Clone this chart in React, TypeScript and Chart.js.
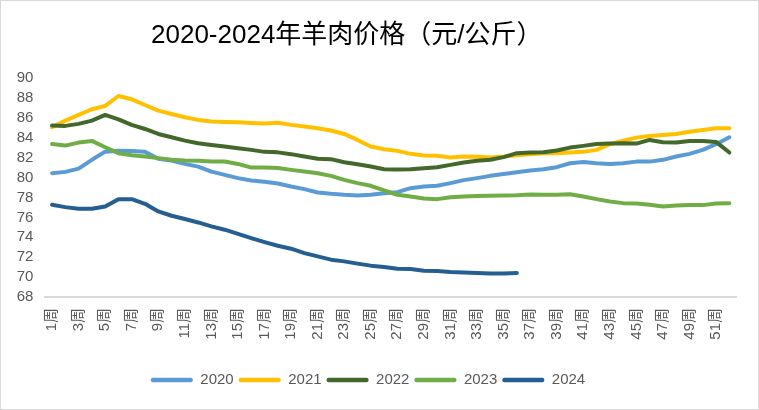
import React, { useEffect, useRef } from "react";
import { Chart, registerables } from "chart.js";

Chart.register(...registerables);

const weeks = [
  "1周", "2周", "3周", "4周", "5周", "6周", "7周", "8周", "9周", "10周",
  "11周", "12周", "13周", "14周", "15周", "16周", "17周", "18周", "19周", "20周",
  "21周", "22周", "23周", "24周", "25周", "26周", "27周", "28周", "29周", "30周",
  "31周", "32周", "33周", "34周", "35周", "36周", "37周", "38周", "39周", "40周",
  "41周", "42周", "43周", "44周", "45周", "46周", "47周", "48周", "49周", "50周",
  "51周", "52周",
];

const seriesNames = ["2020", "2021", "2022", "2023", "2024"];

const d2020 = [
  80.44, 80.57, 80.9, 81.78, 82.6, 82.7, 82.67, 82.58, 81.88, 81.71,
  81.37, 81.1, 80.6, 80.27, 79.94, 79.7, 79.57, 79.4, 79.1, 78.84,
  78.5, 78.37, 78.27, 78.2, 78.27, 78.43, 78.53, 78.93, 79.1, 79.17,
  79.44, 79.74, 79.94, 80.17, 80.36, 80.54, 80.71, 80.84, 81.04, 81.44,
  81.57, 81.44, 81.37, 81.44, 81.6, 81.6, 81.78, 82.11, 82.38, 82.78,
  83.35, 84.05,
];

const d2021 = [
  85.05, 85.72, 86.29, 86.86, 87.19, 88.19, 87.86, 87.29, 86.72, 86.39,
  86.06, 85.79, 85.62, 85.59, 85.56, 85.49, 85.42, 85.5, 85.29, 85.12,
  84.95, 84.72, 84.38, 83.78, 83.11, 82.85, 82.68, 82.38, 82.21, 82.18,
  82.01, 82.11, 82.08, 82.01, 82.11, 82.25, 82.35, 82.45, 82.45, 82.52,
  82.58, 82.78, 83.35, 83.71, 84.01, 84.18, 84.28, 84.38, 84.61, 84.78,
  84.95, 84.95,
];

const d2022 = [
  85.22, 85.19, 85.39, 85.72, 86.29, 85.85, 85.29, 84.88, 84.38, 84.05,
  83.71, 83.45, 83.28, 83.11, 82.95, 82.78, 82.58, 82.53, 82.35, 82.11,
  81.88, 81.85, 81.54, 81.34, 81.11, 80.84, 80.81, 80.84, 80.94, 81.04,
  81.27, 81.51, 81.68, 81.78, 82.05, 82.45, 82.52, 82.55, 82.71, 83.01,
  83.18, 83.38, 83.41, 83.45, 83.41, 83.78, 83.55, 83.51, 83.68, 83.68,
  83.58, 82.51,
];

const d2023 = [
  83.38, 83.21, 83.51, 83.68, 83.05, 82.45, 82.25, 82.11, 81.95, 81.78,
  81.71, 81.68, 81.61, 81.61, 81.37, 81.0, 81.0, 80.96, 80.77, 80.6,
  80.44, 80.17, 79.77, 79.44, 79.17, 78.7, 78.27, 78.1, 77.9, 77.83,
  78.03, 78.1, 78.14, 78.17, 78.2, 78.23, 78.3, 78.27, 78.27, 78.33,
  78.1, 77.83, 77.6, 77.43, 77.4, 77.26, 77.1, 77.2, 77.23, 77.23,
  77.4, 77.43,
];

const d2024 = [
  77.26, 77.03, 76.86, 76.86, 77.1, 77.83, 77.83, 77.36, 76.6, 76.16,
  75.83, 75.49, 75.09, 74.76, 74.35, 73.92, 73.52, 73.15, 72.85, 72.41,
  72.08, 71.75, 71.58, 71.35, 71.15, 71.01, 70.84, 70.81, 70.64, 70.61,
  70.51, 70.47, 70.41, 70.37, 70.37, 70.41,
];

const colors = ["#5B9BD5", "#FFC000", "#43682B", "#70AD47", "#255E91"];
const allData = [d2020, d2021, d2022, d2023, d2024];

const FONT = '"Liberation Sans", Arial, "Noto Sans CJK SC", sans-serif';

export default function App() {
  const ref = useRef<HTMLCanvasElement>(null);

  useEffect(() => {
    const canvas = ref.current;
    if (!canvas) return;
    const chart = new Chart(canvas, {
      type: "line",
      data: {
        labels: weeks,
        datasets: seriesNames.map((name, i) => ({
          label: name,
          data: allData[i],
          borderColor: colors[i],
          backgroundColor: colors[i],
          borderWidth: 4,
          pointRadius: 0,
          pointHoverRadius: 0,
          tension: 0,
          fill: false,
          borderCapStyle: "round" as const,
          borderJoinStyle: "round" as const,
          order: seriesNames.length - i,
        })),
      },
      options: {
        responsive: false,
        animation: false,
        devicePixelRatio: 1,
        layout: { padding: { left: 0, right: 23, top: 78, bottom: 12.5 } },
        plugins: {
          title: { display: false },
          tooltip: { enabled: false },
          legend: {
            position: "bottom",
            labels: {
              boxWidth: 42,
              boxHeight: 4.5,
              padding: 5,
              color: "#595959",
              font: { family: FONT, size: 15 },
              useBorderRadius: true,
              borderRadius: 2,
              generateLabels: (c: any) => {
                const items = (Chart.defaults.plugins.legend.labels as any).generateLabels(c);
                return items
                  .map((it: any) => ({ ...it, fillStyle: it.strokeStyle, lineWidth: 0 }))
                  .sort((a: any, b: any) => a.datasetIndex - b.datasetIndex);
              },
            },
          },
        },
        scales: {
          x: {
            offset: true,
            grid: { display: false, drawTicks: false },
            border: { display: true, color: "#d9d9d9", width: 2 },
            ticks: {
              autoSkip: false,
              minRotation: 90,
              maxRotation: 90,
              padding: 11,
              color: "#595959",
              font: { family: FONT, size: 15 },
              callback: (_v: any, idx: number) => (idx % 2 === 0 ? weeks[idx] : ""),
            },
            afterFit: (scale: any) => {
              scale.height = 70.5;
            },
          },
          y: {
            min: 68,
            max: 90,
            grid: { display: false, drawTicks: false },
            border: { display: false },
            ticks: {
              stepSize: 2,
              autoSkip: false,
              padding: 12,
              color: "#595959",
              font: { family: FONT, size: 15 },
            },
            afterFit: (scale: any) => {
              scale.width = 45.4;
            },
          },
        },
      },
    });
    return () => chart.destroy();
  }, []);

  return (
    <div style={{ position: "absolute", left: 0, top: 0, width: 759, height: 410, background: "#fff" }}>
      <canvas ref={ref} width={759} height={410} style={{ display: "block", width: 759, height: 410 }} />
      <div
        style={{
          position: "absolute",
          left: 151,
          top: 21,
          fontFamily: FONT,
          fontSize: 26,
          lineHeight: "26px",
          color: "#000",
          whiteSpace: "nowrap",
        }}
      >
        2020-2024年羊肉价格（元/公斤）
      </div>
      <div
        style={{
          position: "absolute",
          left: 0,
          top: 0,
          width: 759,
          height: 410,
          boxSizing: "border-box",
          border: "1px solid #d9d9d9",
          pointerEvents: "none",
        }}
      />
    </div>
  );
}
